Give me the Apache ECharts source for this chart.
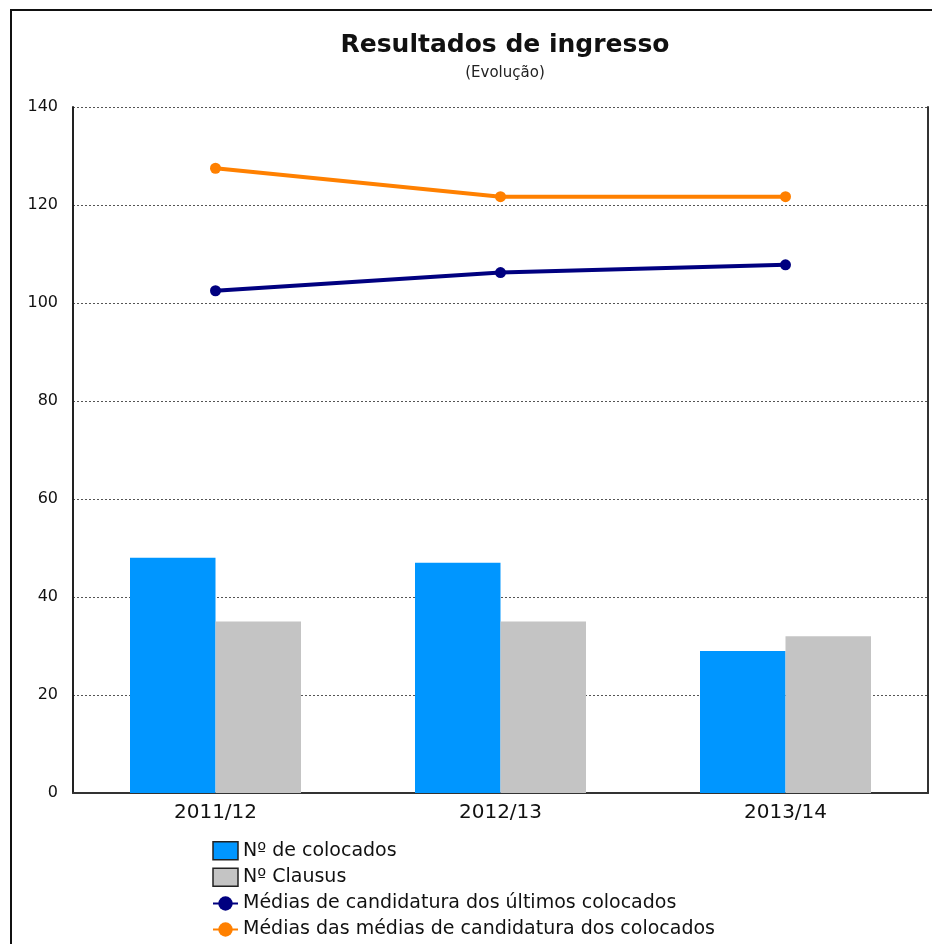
<!DOCTYPE html>
<html>
<head>
<meta charset="utf-8">
<script src="https://cdn.jsdelivr.net/npm/echarts@6/dist/echarts.min.js"></script>
<style>
  html, body { margin: 0; padding: 0; background: #fff; }
  #chart { width: 932px; height: 944px; }
</style>
</head>
<body>
<div id="chart"></div>
<script>
const categories = ['2011/12', '2012/13', '2013/14'];
const colocados = [48, 47, 29];
const clausus = [35, 35, 32];
const ultimosColocados = [102.5, 106.2, 107.8];
const mediasColocados = [127.5, 121.7, 121.7];

const chart = echarts.init(document.getElementById('chart'));

const option = {
    animation: false,
    textStyle: { fontFamily: 'DejaVu Sans' },
    title: {
        text: 'Resultados de ingresso',
        subtext: '(Evolução)',
        left: 500,
        top: 28,
        textAlign: 'center',
        itemGap: 8,
        textStyle: { fontSize: 25, fontWeight: 'bold', color: '#111' },
        subtextStyle: { fontSize: 15, color: '#222' }
    },
    graphic: [{
        type: 'rect',
        shape: { x: 11, y: 10, width: 960, height: 960 },
        style: { fill: 'none', stroke: '#111', lineWidth: 2 },
        silent: true
    }],
    legend: {
        orient: 'vertical',
        left: 207,
        top: 836,
        itemGap: 7,
        itemWidth: 25,
        itemHeight: 18,
        textStyle: { fontSize: 19, color: '#111' },
        data: [
            { name: 'Nº de colocados', icon: 'rect', itemStyle: { borderColor: '#222', borderWidth: 1.5 } },
            { name: 'Nº Clausus', icon: 'rect', itemStyle: { borderColor: '#222', borderWidth: 1.5 } },
            'Médias de candidatura dos últimos colocados',
            'Médias das médias de candidatura dos colocados'
        ]
    },
    grid: { left: 73, right: 4, top: 107, bottom: 151 },
    xAxis: {
        type: 'category',
        data: categories,
        axisTick: { show: false },
        axisLine: { lineStyle: { color: '#333', width: 2 } },
        axisLabel: { fontSize: 20, color: '#111', margin: 10 }
    },
    yAxis: [{
        type: 'value',
        min: 0,
        max: 140,
        interval: 20,
        axisLine: { show: true, lineStyle: { color: '#222', width: 2 } },
        axisTick: { show: false },
        axisLabel: { fontSize: 16, color: '#111', margin: 15 },
        splitLine: { lineStyle: { color: '#555', type: [2, 2], width: 1 } }
    }, {
        type: 'value',
        position: 'right',
        min: 0,
        max: 140,
        interval: 20,
        axisLine: { show: true, lineStyle: { color: '#333', width: 2 } },
        axisTick: { show: false },
        axisLabel: { show: false },
        splitLine: { show: false }
    }],
    series: [
        {
            name: 'Nº de colocados',
            type: 'bar',
            data: colocados,
            barWidth: '30%',
            barGap: '0%',
            itemStyle: { color: '#0096FF' }
        },
        {
            name: 'Nº Clausus',
            type: 'bar',
            data: clausus,
            barWidth: '30%',
            itemStyle: { color: '#C4C4C4' }
        },
        {
            name: 'Médias de candidatura dos últimos colocados',
            type: 'line',
            data: ultimosColocados,
            symbol: 'circle',
            symbolSize: 11,
            lineStyle: { color: '#000080', width: 4 },
            itemStyle: { color: '#000080' }
        },
        {
            name: 'Médias das médias de candidatura dos colocados',
            type: 'line',
            data: mediasColocados,
            symbol: 'circle',
            symbolSize: 11,
            lineStyle: { color: '#FF8000', width: 4 },
            itemStyle: { color: '#FF8000' }
        }
    ]
};

option && chart.setOption(option);
</script>
</body>
</html>
